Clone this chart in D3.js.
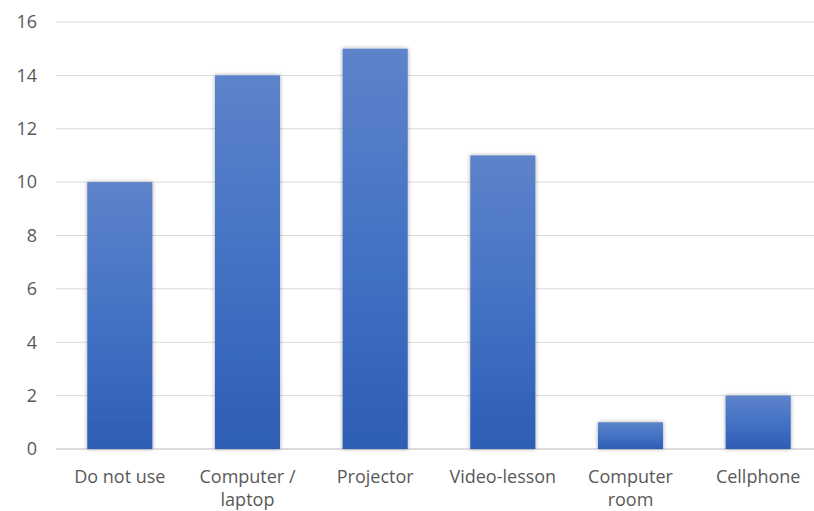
<!DOCTYPE html>
<html><head><meta charset="utf-8">
<script src="https://cdn.jsdelivr.net/npm/d3@7"></script>
<style>body{margin:0;background:#fff;overflow:hidden}</style>
</head><body>
<svg id="c" width="814" height="511"></svg>
<script>
const categories = ["Do not use", "Computer / laptop", "Projector", "Video-lesson", "Computer room", "Cellphone"];
const labelLines = [["Do not use"], ["Computer /", "laptop"], ["Projector"], ["Video-lesson"], ["Computer", "room"], ["Cellphone"]];
const values = [10, 14, 15, 11, 1, 2];
const yTicks = [0, 2, 4, 6, 8, 10, 12, 14, 16];

const svg = d3.select("#c");
const x = d3.scaleBand().domain(categories).range([56, 822]).paddingInner(0.49).paddingOuter(0.245);
const y = d3.scaleLinear().domain([0, 16]).range([449, 22]);

const defs = svg.append("defs");
const g = defs.append("linearGradient").attr("id", "grad").attr("x1", 0).attr("y1", 0).attr("x2", 0).attr("y2", 1);
g.append("stop").attr("offset", "0%").attr("stop-color", "#5d83ca");
g.append("stop").attr("offset", "50%").attr("stop-color", "#4472c4");
g.append("stop").attr("offset", "100%").attr("stop-color", "#2e5db6");
const f = defs.append("filter").attr("id", "sh").attr("x", "-20%").attr("y", "-20%").attr("width", "140%").attr("height", "140%");
f.append("feDropShadow").attr("dx", 0).attr("dy", 0).attr("stdDeviation", 2).attr("flood-color", "#000").attr("flood-opacity", 0.35);

const font = "'Open Sans', sans-serif";

svg.append("g").selectAll("line").data(yTicks).join("line")
  .attr("x1", 56).attr("x2", 814)
  .attr("y1", d => y(d)).attr("y2", d => y(d))
  .attr("stroke", d => d === 0 ? "#d0d0d0" : "#d9d9d9").attr("stroke-width", d => d === 0 ? 1.5 : 1);

svg.append("g").selectAll("text").data(yTicks).join("text")
  .attr("x", 37).attr("y", d => y(d)).attr("dy", "0.35em")
  .attr("text-anchor", "end").attr("fill", "#595959")
  .style("font-family", font).style("font-size", "18px")
  .text(d => d);

svg.append("g").selectAll("rect").data(values).join("rect")
  .attr("x", (d, i) => x(categories[i])).attr("width", x.bandwidth())
  .attr("y", d => y(d)).attr("height", d => y(0) - y(d))
  .attr("fill", "url(#grad)").attr("filter", "url(#sh)");

const lab = svg.append("g").selectAll("text").data(categories).join("text")
  .attr("x", d => x(d) + x.bandwidth() / 2).attr("y", 483)
  .attr("text-anchor", "middle").attr("fill", "#595959")
  .style("font-family", font).style("font-size", "18px");
lab.each(function(d, i) {
  const t = d3.select(this);
  labelLines[i].forEach((l, j) => t.append("tspan").attr("x", x(d) + x.bandwidth() / 2).attr("dy", j === 0 ? 0 : 23).text(l));
});
</script>
</body></html>
